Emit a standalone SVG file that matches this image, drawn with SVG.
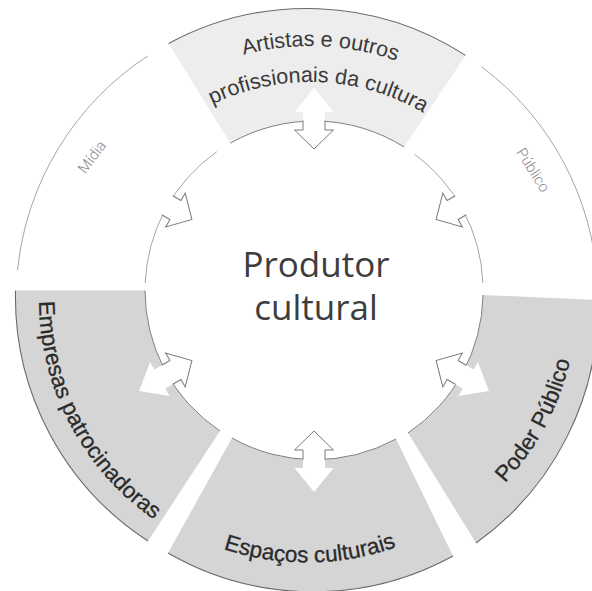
<svg xmlns="http://www.w3.org/2000/svg" width="592" height="591" viewBox="0 0 592 591">
  <style>
    .band-dark{fill:#d5d5d5}
    .band-light{fill:#ededed}
    .rim{fill:none;stroke:#6a6a6a;stroke-width:1.1}
    .rim-in{fill:none;stroke:#808080;stroke-width:1}
    .rim-soft{fill:none;stroke:#9a9a9a;stroke-width:0.9}
    .label{font-family:"Liberation Sans",Arial,sans-serif;font-size:22.5px;fill:#2a2a2a;stroke:#2a2a2a;stroke-width:0.3;text-anchor:middle}
    .label-top{font-family:"Liberation Sans",Arial,sans-serif;font-size:21.5px;fill:#3a3a3a;text-anchor:middle}
    .minor{font-family:"Roboto","Liberation Sans",sans-serif;font-weight:300;font-size:15px;fill:#8a8a8a;text-anchor:middle}
    .core{font-family:"Open Sans","Liberation Sans",sans-serif;font-size:35px;fill:#3d3d3d;text-anchor:middle}
    .arrow-fill{fill:#ffffff}
    .arrow-line{fill:none;stroke:#7a7a7a;stroke-width:1}
  </style>
  <defs>
    <!-- baselines for the curved labels -->
    <path id="arcTopOuter" d="M 51 305 A 259 259 0 0 1 569 305"/>
    <path id="arcTopInner" d="M 87 305 A 223 223 0 0 1 533 305"/>
    <path id="arcEmpresas" d="M 39 299.5 A 268 268 0 0 0 575 299.5"/>
    <path id="arcEspacos" d="M 44 299.5 A 263 263 0 0 0 570 299.5"/>
    <path id="arcPoder" d="M 37 299.5 A 270 270 0 0 0 577 299.5"/>
    <!-- double arrow crossing the inner circle; local +x points outward -->
    <polygon id="arrowBody" class="arrow-fill" points="141,0 160,-19.5 160,-11 178,-11 178,-19.5 202,0 178,19.5 178,11 160,11 160,19.5"/>
    <polyline id="arrowEdge" class="arrow-line" points="169.5,-11 160,-11 160,-19.5 141,0 160,19.5 160,11 169.5,11"/>
  </defs>

  <rect width="592" height="591" fill="#ffffff"/>

  <!-- Mídia -->
  <g id="midia">
    <path class="rim-soft" d="M 17.5 270.1 A 291 291 0 0 1 147.7 56"/>
    <path class="rim-soft" d="M 145.2 282.9 A 169 169 0 0 1 216.8 151.7"/>
    <text class="minor" transform="translate(92 157) rotate(-53)" x="0" y="5">Mídia</text>
  </g>

  <!-- Artistas e outros profissionais da cultura -->
  <g id="artistas">
    <path class="band-light" d="M 168.6 43.5 A 291 291 0 0 1 465.5 55.4 L 404.1 147 A 169 169 0 0 0 230.3 143.2 Z"/>
    <path class="rim" d="M 168.6 43.5 A 291 291 0 0 1 465.5 55.4"/>
    <path class="rim-in" d="M 230.3 143.2 A 169 169 0 0 1 404.1 147"/>
    <text class="label-top"><textPath href="#arcTopOuter" startOffset="417">Artistas e outros</textPath></text>
    <text class="label-top"><textPath href="#arcTopInner" startOffset="359">profissionais da cultura</textPath></text>
  </g>

  <!-- Público -->
  <g id="publico">
    <path class="rim-soft" d="M 481.7 66.8 A 291 291 0 0 1 597.6 284.3"/>
    <path class="rim-soft" d="M 414.5 154.1 A 169 169 0 0 1 482.9 282.9"/>
    <text class="minor" transform="translate(533 170) rotate(58)" x="0" y="5">Público</text>
  </g>

  <!-- Poder Público -->
  <g id="poder-publico">
    <path class="band-dark" d="M 483 295 L 598 300 A 291 291 0 0 1 476 543 L 408 433 A 169 169 0 0 0 483 295 Z"/>
    <path class="rim" d="M 598 300 A 291 291 0 0 1 476 543"/>
    <path class="rim-in" d="M 408 433 A 169 169 0 0 0 483 295"/>
    <text class="label"><textPath href="#arcPoder" startOffset="716">Poder Público</textPath></text>
  </g>

  <!-- Espaços culturais -->
  <g id="espacos-culturais">
    <path class="band-dark" d="M 232 438 L 168 553 A 291 291 0 0 0 453 556 L 396 439 A 169 169 0 0 1 232 438 Z"/>
    <path class="rim" d="M 168 553 A 291 291 0 0 0 453 556"/>
    <path class="rim-in" d="M 396 439 A 169 169 0 0 1 232 438"/>
    <text class="label"><textPath href="#arcEspacos" startOffset="416">Espaços culturais</textPath></text>
  </g>

  <!-- Empresas patrocinadoras -->
  <g id="empresas-patrocinadoras">
    <path class="band-dark" d="M 15.5 290.5 L 145 290.5 A 169 169 0 0 0 220 431 L 148 541 A 291 291 0 0 1 15.5 290.5 Z"/>
    <path class="rim" d="M 148 541 A 291 291 0 0 1 15.5 290.5"/>
    <path class="rim-in" d="M 145 290.5 A 169 169 0 0 0 220 431"/>
    <text class="label"><textPath href="#arcEmpresas" startOffset="130">Empresas patrocinadoras</textPath></text>
  </g>

  <!-- arrows between the centre and each band -->
  <g id="connectors">
    <g transform="translate(314 290) rotate(-90)"><use href="#arrowBody"/><use href="#arrowEdge"/></g>
    <g transform="translate(314 290) rotate(-30)"><use href="#arrowBody"/><use href="#arrowEdge"/></g>
    <g transform="translate(314 290) rotate(30)"><use href="#arrowBody"/><use href="#arrowEdge"/></g>
    <g transform="translate(314 290) rotate(90)"><use href="#arrowBody"/><use href="#arrowEdge"/></g>
    <g transform="translate(314 290) rotate(150)"><use href="#arrowBody"/><use href="#arrowEdge"/></g>
    <g transform="translate(314 290) rotate(-150)"><use href="#arrowBody"/><use href="#arrowEdge"/></g>
  </g>

  <!-- centre -->
  <g id="produtor-cultural">
    <text class="core" x="316" y="277">Produtor</text>
    <text class="core" x="316" y="320">cultural</text>
  </g>
</svg>
